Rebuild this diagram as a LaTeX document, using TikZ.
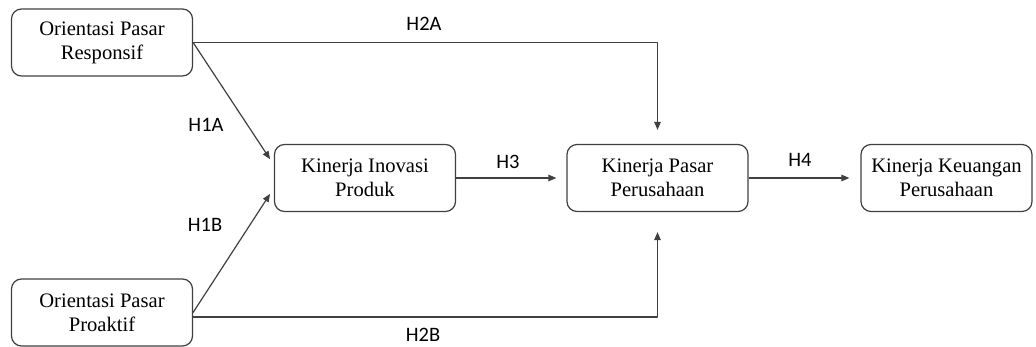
\documentclass[tikz,border=0pt]{standalone}
\usepackage{fontspec}
\setmainfont{Liberation Serif}
\newfontfamily\lblfont{Carlito}
\usetikzlibrary{arrows.meta}
\definecolor{linegray}{RGB}{64,64,64}
\begin{document}
\begin{tikzpicture}[
        x=1pt, y=-1pt,
        line join=round,
        % styles
        box/.style={draw=linegray, line width=1.2pt, rounded corners=10pt,
            minimum width=181pt, minimum height=67pt, inner sep=0pt,
            align=center, font=\fontsize{20.6}{24}\selectfont},
        conn/.style={draw=linegray, line width=1.2pt,
            -{Triangle[length=8pt,width=6.5pt]}},
        lbl/.style={font=\lblfont\fontsize{20.5}{22}\selectfont, inner sep=0pt},
    ]
    \useasboundingbox (0,0) rectangle (1036,347);

    % boxes
    \node[box] (resp) at (102,42.5) {Orientasi Pasar\\Responsif};
    \node[box] (pro)  at (102,312.5) {Orientasi Pasar\\Proaktif};
    \node[box] (ino)  at (365,178) {Kinerja Inovasi\\Produk};
    \node[box] (pasar) at (657.5,178) {Kinerja Pasar\\Perusahaan};
    \node[box, minimum width=171pt] (keu) at (946.5,178) {Kinerja Keuangan\\Perusahaan};

    % hypotheses
    \draw[conn, shorten >=7pt]  (resp.east) -- ([yshift=13pt]ino.west);
    \draw[conn, shorten >=7pt]  (pro.east) -- ([yshift=-10pt]ino.west);
    \draw[conn, shorten >=14pt] (resp.east) -| (pasar.north);
    \draw[conn, shorten >=20pt] ([yshift=-4.5pt]pro.east) -| (pasar.south);
    \draw[conn, shorten >=10pt] (ino.east) -- (pasar.west);
    \draw[conn, shorten >=11pt] (pasar.east) -- (keu.west);

    % labels
    \node[lbl] (h1a) at (206,125) {H1A};
    \node[lbl] (h1b) at (205,225) {H1B};
    \node[lbl] (h2a) at (424,24) {H2A};
    \node[lbl] (h2b) at (423,335) {H2B};
    \node[lbl] (h3)  at (508,162) {H3};
    \node[lbl] (h4)  at (800,160) {H4};
\end{tikzpicture}
\end{document}
